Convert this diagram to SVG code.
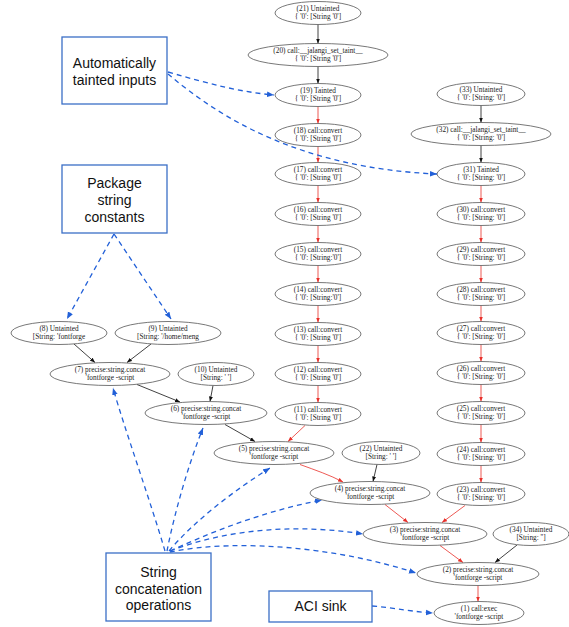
<svg xmlns="http://www.w3.org/2000/svg" width="569" height="627" viewBox="0 0 569 627">
<style>
.n ellipse{fill:#fff;stroke:#555;stroke-width:0.8}
.n text{font-family:"Liberation Serif","Times New Roman",serif;font-size:7.3px;fill:#222;text-anchor:middle}
.b rect{fill:#fff;stroke:#3b6fc6;stroke-width:1.3}
.b text{font-family:"Liberation Sans",Arial,sans-serif;font-size:14px;fill:#111;text-anchor:middle}
.k{stroke:#111;stroke-width:0.8;fill:none;marker-end:url(#ak)}
.r{stroke:#e8302a;stroke-width:0.8;fill:none;marker-end:url(#ar)}
.d{stroke:#2260d8;stroke-width:1.3;fill:none;stroke-dasharray:5,4;marker-end:url(#ad)}
</style>
<defs>
<marker id="ak" viewBox="0 0 10 10" refX="10" refY="5" markerWidth="5" markerHeight="5" markerUnits="userSpaceOnUse" orient="auto"><path d="M0,1 L10,5 L0,9z" fill="#111"/></marker>
<marker id="ar" viewBox="0 0 10 10" refX="10" refY="5" markerWidth="5" markerHeight="5" markerUnits="userSpaceOnUse" orient="auto"><path d="M0,1 L10,5 L0,9z" fill="#e8302a"/></marker>
<marker id="ad" viewBox="0 0 10 10" refX="10" refY="5" markerWidth="7" markerHeight="7" markerUnits="userSpaceOnUse" orient="auto"><path d="M0,1 L10,5 L0,9z" fill="#2260d8"/></marker>
</defs>
<rect width="569" height="627" fill="#fff"/>

<g id="connectors">
<path class="k" d="M318,24.5 L318,43.5"/>
<path class="k" d="M318,66.5 L318,83.5"/>
<path class="r" d="M318,106.5 L318,123.5"/>
<path class="r" d="M318,146.5 L318,162.5"/>
<path class="r" d="M318,185.5 L318,202.5"/>
<path class="r" d="M318,225.5 L318,242.5"/>
<path class="r" d="M318,265.5 L318,282.5"/>
<path class="r" d="M318,305.5 L318,322.5"/>
<path class="r" d="M318,345.5 L318,362.5"/>
<path class="r" d="M318,385.5 L318,402.5"/>
<path class="k" d="M481,105.5 L481,122.5"/>
<path class="k" d="M481,145.5 L481,162.5"/>
<path class="r" d="M481,185.5 L481,202.5"/>
<path class="r" d="M481,225.5 L481,242.5"/>
<path class="r" d="M481,265.5 L481,282.5"/>
<path class="r" d="M481,305.5 L481,321.5"/>
<path class="r" d="M481,344.5 L481,361.5"/>
<path class="r" d="M481,384.5 L481,401.5"/>
<path class="r" d="M481,424.5 L481,442.5"/>
<path class="r" d="M481,465.5 L481,482.5"/>
<path class="k" d="M74,344 L95,362.5"/>
<path class="k" d="M151,344 L127,362.5"/>
<path class="k" d="M137,384.5 L180,402"/>
<path class="k" d="M213,385.5 L210,401.5"/>
<path class="k" d="M225,424.5 L255,441.5"/>
<path class="r" d="M305,425.5 L288,441.5"/>
<path class="r" d="M300,464.5 C315,470 330,475 343,482"/>
<path class="k" d="M377,464.5 L373,481.5"/>
<path class="r" d="M385,504.5 L408,522.5"/>
<path class="r" d="M465,505.5 L442,522.5"/>
<path class="r" d="M440,545.5 L463,562.5"/>
<path class="k" d="M517,545 L495,562.5"/>
<path class="r" d="M478,585.5 L478,601.5"/>

<path class="d" d="M168,72 C210,84 240,92 274,95"/>
<path class="d" d="M168,74 C220,118 300,168 437,174"/>
<path class="d" d="M114,234 L67,319"/>
<path class="d" d="M114,234 L171,319"/>
<path class="d" d="M165,551 C150,500 125,430 113,388"/>
<path class="d" d="M167,551 C175,510 190,460 203,428"/>
<path class="d" d="M169,551 C195,520 235,490 270,468"/>
<path class="d" d="M170,551 C220,528 270,510 322,500"/>
<path class="d" d="M170,551 C230,528 300,524 363,534"/>
<path class="d" d="M170,552 C240,538 340,548 416,573"/>
<path class="d" d="M372,606 C395,608 415,612 433,613"/>
</g>

<g id="n21" class="n"><ellipse cx="318" cy="13" rx="43" ry="11.5"/><text x="318" y="10.8">(21) Untainted</text><text x="318" y="19.3">{ '0': [String '0']</text></g>
<g id="n20" class="n"><ellipse cx="318" cy="55" rx="70" ry="11.5"/><text x="318" y="52.8">(20) call:__jalangi_set_taint__</text><text x="318" y="61.3">{ '0': [String '0']</text></g>
<g id="n19" class="n"><ellipse cx="318" cy="95" rx="43" ry="11.5"/><text x="318" y="92.8">(19) Tainted</text><text x="318" y="101.3">{ '0': [String '0']</text></g>
<g id="n18" class="n"><ellipse cx="318" cy="135" rx="43" ry="11.5"/><text x="318" y="132.8">(18) call:convert</text><text x="318" y="141.3">{ '0': [String '0']</text></g>
<g id="n17" class="n"><ellipse cx="318" cy="174" rx="43" ry="11.5"/><text x="318" y="171.8">(17) call:convert</text><text x="318" y="180.3">{ '0': [String '0']</text></g>
<g id="n16" class="n"><ellipse cx="318" cy="214" rx="43" ry="11.5"/><text x="318" y="211.8">(16) call:convert</text><text x="318" y="220.3">{ '0': [String '0']</text></g>
<g id="n15" class="n"><ellipse cx="318" cy="254" rx="43" ry="11.5"/><text x="318" y="251.8">(15) call:convert</text><text x="318" y="260.3">{ '0': [String:'0']</text></g>
<g id="n14" class="n"><ellipse cx="318" cy="294" rx="43" ry="11.5"/><text x="318" y="291.8">(14) call:convert</text><text x="318" y="300.3">{ '0': [String:'0']</text></g>
<g id="n13" class="n"><ellipse cx="318" cy="334" rx="43" ry="11.5"/><text x="318" y="331.8">(13) call:convert</text><text x="318" y="340.3">{ '0': [String '0']</text></g>
<g id="n12" class="n"><ellipse cx="318" cy="374" rx="43" ry="11.5"/><text x="318" y="371.8">(12) call:convert</text><text x="318" y="380.3">{ '0': [String '0']</text></g>
<g id="n11" class="n"><ellipse cx="318" cy="414" rx="43" ry="11.5"/><text x="318" y="411.8">(11) call:convert</text><text x="318" y="420.3">{ '0': [String '0']</text></g>

<g id="n33" class="n"><ellipse cx="481" cy="94" rx="44" ry="11.5"/><text x="481" y="91.8">(33) Untainted</text><text x="481" y="100.3">{ '0': [String: '0']</text></g>
<g id="n32" class="n"><ellipse cx="481" cy="134" rx="70" ry="11.5"/><text x="481" y="131.8">(32) call:__jalangi_set_taint__</text><text x="481" y="140.3">{ '0': [String: '0']</text></g>
<g id="n31" class="n"><ellipse cx="481" cy="174" rx="44" ry="11.5"/><text x="481" y="171.8">(31) Tainted</text><text x="481" y="180.3">{ '0': [String: '0']</text></g>
<g id="n30" class="n"><ellipse cx="481" cy="214" rx="44" ry="11.5"/><text x="481" y="211.8">(30) call:convert</text><text x="481" y="220.3">{ '0': [String: '0']</text></g>
<g id="n29" class="n"><ellipse cx="481" cy="254" rx="44" ry="11.5"/><text x="481" y="251.8">(29) call:convert</text><text x="481" y="260.3">{ '0': [String: '0']</text></g>
<g id="n28" class="n"><ellipse cx="481" cy="294" rx="44" ry="11.5"/><text x="481" y="291.8">(28) call:convert</text><text x="481" y="300.3">{ '0': [String: '0']</text></g>
<g id="n27" class="n"><ellipse cx="481" cy="333" rx="44" ry="11.5"/><text x="481" y="330.8">(27) call:convert</text><text x="481" y="339.3">{ '0': [String: '0']</text></g>
<g id="n26" class="n"><ellipse cx="481" cy="373" rx="44" ry="11.5"/><text x="481" y="370.8">(26) call:convert</text><text x="481" y="379.3">{ '0': [String: '0']</text></g>
<g id="n25" class="n"><ellipse cx="481" cy="413" rx="44" ry="11.5"/><text x="481" y="410.8">(25) call:convert</text><text x="481" y="419.3">{ '0': [String: '0']</text></g>
<g id="n24" class="n"><ellipse cx="481" cy="454" rx="44" ry="11.5"/><text x="481" y="451.8">(24) call:convert</text><text x="481" y="460.3">{ '0': [String: '0']</text></g>
<g id="n23" class="n"><ellipse cx="481" cy="494" rx="44" ry="11.5"/><text x="481" y="491.8">(23) call:convert</text><text x="481" y="500.3">{ '0': [String: '0']</text></g>

<g id="n8" class="n"><ellipse cx="59" cy="333" rx="48" ry="11.5"/><text x="59" y="330.8">(8) Untainted</text><text x="59" y="339.3">[String: 'fontforge</text></g>
<g id="n9" class="n"><ellipse cx="168" cy="333" rx="53" ry="11.5"/><text x="168" y="330.8">(9) Untainted</text><text x="168" y="339.3">[String: '/home/meng</text></g>
<g id="n7" class="n"><ellipse cx="110" cy="374" rx="60" ry="11.5"/><text x="110" y="371.8">(7) precise:string.concat</text><text x="110" y="380.3">'fontforge -script</text></g>
<g id="n10" class="n"><ellipse cx="216" cy="374" rx="38" ry="11.5"/><text x="216" y="371.8">(10) Untainted</text><text x="216" y="380.3">[String: ' ']</text></g>
<g id="n6" class="n"><ellipse cx="206" cy="413" rx="61" ry="11.5"/><text x="206" y="410.8">(6) precise:string.concat</text><text x="206" y="419.3">'fontforge -script</text></g>
<g id="n5" class="n"><ellipse cx="274" cy="453" rx="60" ry="11.5"/><text x="274" y="450.8">(5) precise:string.concat</text><text x="274" y="459.3">'fontforge -script</text></g>
<g id="n22" class="n"><ellipse cx="381" cy="453" rx="39" ry="11.5"/><text x="381" y="450.8">(22) Untainted</text><text x="381" y="459.3">[String: ' ']</text></g>
<g id="n4" class="n"><ellipse cx="370" cy="493" rx="60" ry="11.5"/><text x="370" y="490.8">(4) precise:string.concat</text><text x="370" y="499.3">'fontforge -script</text></g>
<g id="n3" class="n"><ellipse cx="425" cy="534" rx="62" ry="11.5"/><text x="425" y="531.8">(3) precise:string.concat</text><text x="425" y="540.3">'fontforge -script</text></g>
<g id="n34" class="n"><ellipse cx="531" cy="534" rx="38" ry="11.5"/><text x="531" y="531.8">(34) Untainted</text><text x="531" y="540.3">[String: '']</text></g>
<g id="n2" class="n"><ellipse cx="478" cy="574" rx="61" ry="11.5"/><text x="478" y="571.8">(2) precise:string.concat</text><text x="478" y="580.3">'fontforge -script</text></g>
<g id="n1" class="n"><ellipse cx="479" cy="613" rx="45" ry="11.5"/><text x="479" y="610.8">(1) call:exec</text><text x="479" y="619.3">'fontforge -script</text></g>

<g id="box-auto" class="b"><rect x="62" y="37" width="105" height="67"/><text x="114.5" y="67.5">Automatically</text><text x="114.5" y="84.5">tainted inputs</text></g>
<g id="box-pkg" class="b"><rect x="62" y="165" width="105" height="68"/><text x="114.5" y="188">Package</text><text x="114.5" y="205">string</text><text x="114.5" y="222">constants</text></g>
<g id="box-concat" class="b"><rect x="106" y="553" width="105" height="68"/><text x="158.5" y="577">String</text><text x="158.5" y="593.5">concatenation</text><text x="158.5" y="610">operations</text></g>
<g id="box-sink" class="b"><rect x="269" y="591" width="103" height="31"/><text x="320.5" y="611">ACI sink</text></g>
</svg>
